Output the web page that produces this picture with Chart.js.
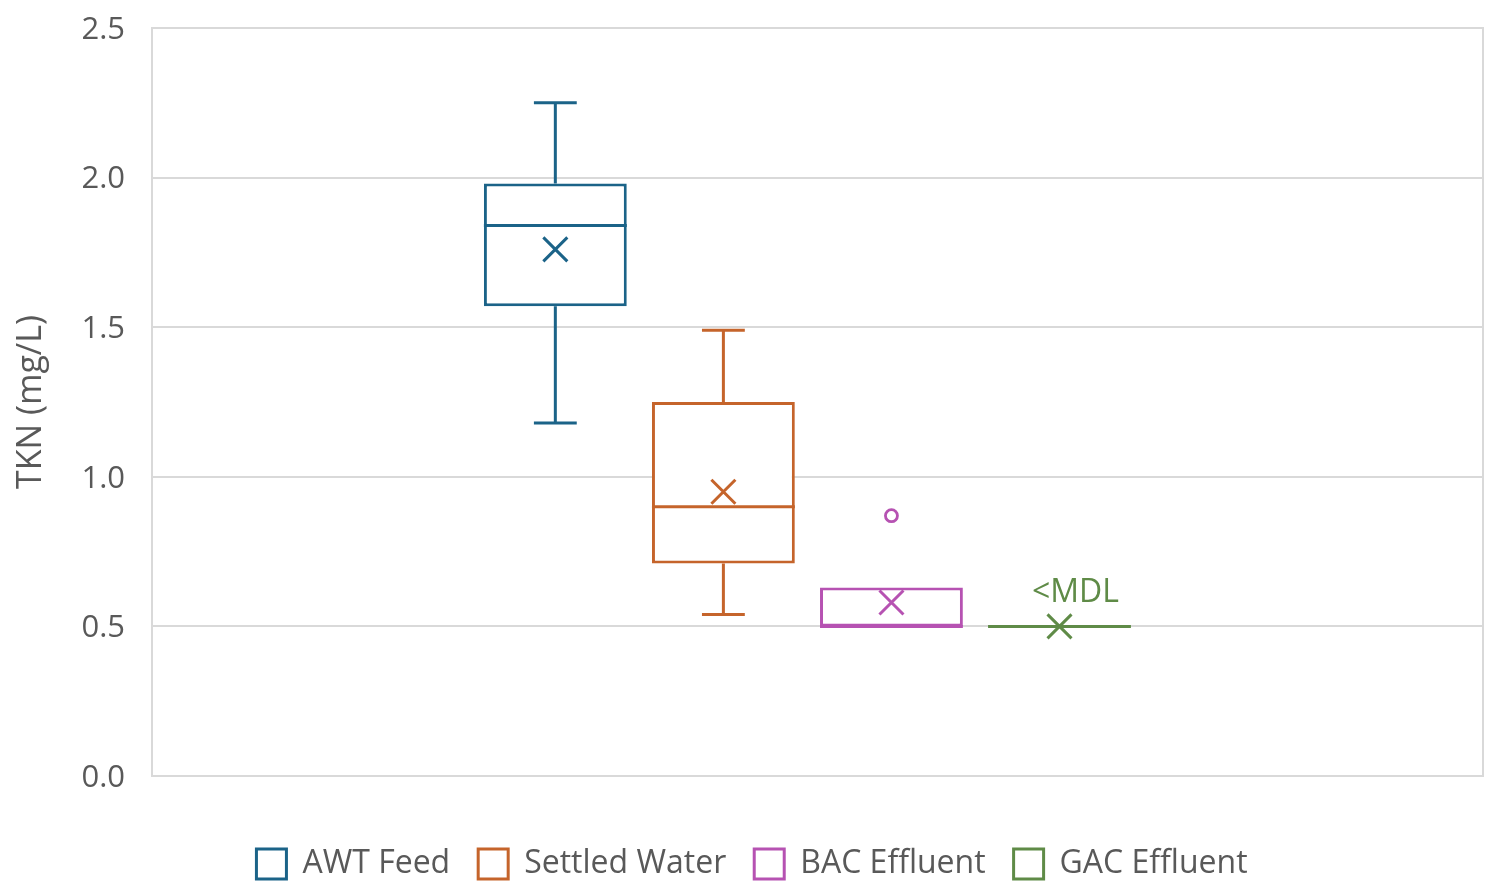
<!DOCTYPE html>
<html>
<head>
<meta charset="utf-8">
<script src="https://cdn.jsdelivr.net/npm/chart.js@4.4.1/dist/chart.umd.min.js"></script>
<style>
  html, body { margin: 0; padding: 0; background: #fff; }
  #wrap { width: 1501px; height: 894px; }
</style>
</head>
<body>
<div id="wrap"><canvas id="tknChart"></canvas></div>
<script>
// Box plot values (mg/L)
const series = ['AWT Feed', 'Settled Water', 'BAC Effluent', 'GAC Effluent'];
const colors = ['#1B6388', '#C5642B', '#B652B2', '#5F8B47'];
const positions = [1, 2, 3, 4];
const minVals = [1.18, 0.54, 0.50, 0.50];
const q1Vals = [1.57, 0.71, 0.50, 0.50];
const medianVals = [1.84, 0.90, 0.50, 0.50];
const q3Vals = [1.98, 1.25, 0.63, 0.50];
const maxVals = [2.25, 1.49, 0.63, 0.50];
const meanVals = [1.76, 0.95, 0.58, 0.50];
const outliers = [[], [], [0.87], []];
const notes = ['', '', '', '<MDL'];
const yTicks = [0, 0.5, 1.0, 1.5, 2.0, 2.5];

const textColor = '#595959';
const gridColor = '#D9D9D9';
const fontFamily = '"Open Sans", "Noto Sans", sans-serif';

// Whiskers, medians, means, outliers and notes drawn on top of the floating bars
const boxPlotExtras = {
    id: 'boxPlotExtras',
    beforeDatasetsDraw(chart) {
        const a = chart.chartArea;
        const ctx = chart.ctx;
        ctx.save();
        ctx.strokeStyle = gridColor;
        ctx.lineWidth = 2;
        ctx.strokeRect(a.left, a.top, a.right - a.left, a.bottom - a.top);
        ctx.restore();
    },
    afterDatasetsDraw(chart) {
        const ctx = chart.ctx;
        const y = chart.scales.y;
        ctx.save();
        chart.data.datasets.forEach((ds, i) => {
            const bar = chart.getDatasetMeta(i).data[0];
            if (!bar) return;
            const cx = bar.x;
            const w = bar.width;
            const cap = w * 0.3;
            const yPx = v => y.getPixelForValue(v);
            ctx.strokeStyle = colors[i];
            ctx.lineWidth = 3;
            ctx.lineCap = 'butt';

            // whiskers
            if (maxVals[i] > q3Vals[i]) {
                ctx.beginPath();
                ctx.moveTo(cx, yPx(q3Vals[i]));
                ctx.lineTo(cx, yPx(maxVals[i]));
                ctx.moveTo(cx - cap / 2, yPx(maxVals[i]));
                ctx.lineTo(cx + cap / 2, yPx(maxVals[i]));
                ctx.stroke();
            }
            if (minVals[i] < q1Vals[i]) {
                ctx.beginPath();
                ctx.moveTo(cx, yPx(q1Vals[i]));
                ctx.lineTo(cx, yPx(minVals[i]));
                ctx.moveTo(cx - cap / 2, yPx(minVals[i]));
                ctx.lineTo(cx + cap / 2, yPx(minVals[i]));
                ctx.stroke();
            }

            // median
            ctx.beginPath();
            ctx.moveTo(cx - w / 2, yPx(medianVals[i]));
            ctx.lineTo(cx + w / 2, yPx(medianVals[i]));
            ctx.stroke();

            // mean marker
            const m = yPx(meanVals[i]);
            const s = 12;
            ctx.beginPath();
            ctx.moveTo(cx - s, m - s);
            ctx.lineTo(cx + s, m + s);
            ctx.moveTo(cx + s, m - s);
            ctx.lineTo(cx - s, m + s);
            ctx.stroke();

            // outliers
            ctx.lineWidth = 2.8;
            outliers[i].forEach(v => {
                ctx.beginPath();
                ctx.arc(cx, yPx(v), 6, 0, Math.PI * 2);
                ctx.stroke();
            });

            // note label
            if (notes[i]) {
                ctx.fillStyle = colors[i];
                ctx.font = '32px ' + fontFamily;
                ctx.textAlign = 'center';
                ctx.textBaseline = 'middle';
                ctx.fillText(notes[i], cx + 16, yPx(q3Vals[i]) - 34);
            }
        });
        ctx.restore();
    }
};

const ctx = document.getElementById('tknChart').getContext('2d');
new Chart(ctx, {
    type: 'bar',
    data: {
        datasets: series.map((name, i) => ({
            label: name,
            data: [{ x: positions[i], y: [q1Vals[i], q3Vals[i]] }],
            backgroundColor: '#FFFFFF',
            borderColor: colors[i],
            borderWidth: 3,
            borderSkipped: false,
            grouped: false,
            barPercentage: 0.85,
            categoryPercentage: 1.0
        }))
    },
    options: {
        responsive: true,
        maintainAspectRatio: false,
        animation: false,
        layout: {
            padding: { top: 28, right: 18, left: 21, bottom: 4 }
        },
        plugins: {
            legend: {
                position: 'bottom',
                labels: {
                    boxWidth: 30,
                    boxHeight: 30,
                    padding: 28,
                    color: textColor,
                    font: { family: fontFamily, size: 32 }
                }
            },
            tooltip: { enabled: false }
        },
        scales: {
            x: {
                type: 'linear',
                offset: false,
                min: -1.4,
                max: 6.52,
                afterBuildTicks: function(scale) {
                    scale.ticks = positions.map(v => ({ value: v }));
                },
                ticks: { display: false },
                grid: { display: false },
                border: { display: false },
                afterFit: function(scale) {
                    scale.height = 44;
                }
            },
            y: {
                min: 0,
                max: 2.5,
                afterBuildTicks: function(scale) {
                    scale.ticks = yTicks.map(v => ({ value: v }));
                },
                ticks: {
                    padding: 0,
                    labelOffset: 2,
                    color: textColor,
                    font: { family: fontFamily, size: 31 },
                    callback: function(value) {
                        return value.toFixed(1);
                    }
                },
                grid: {
                    color: gridColor,
                    lineWidth: 2,
                    drawTicks: true,
                    tickLength: 27,
                    tickColor: 'rgba(0,0,0,0)'
                },
                border: { display: false },
                title: {
                    display: true,
                    text: 'TKN (mg/L)',
                    color: textColor,
                    font: { family: fontFamily, size: 34 },
                    padding: { top: -10, bottom: 0 }
                },
                afterFit: function(scale) {
                    scale.width = 131;
                }
            }
        }
    },
    plugins: [boxPlotExtras]
});
</script>
</body>
</html>
